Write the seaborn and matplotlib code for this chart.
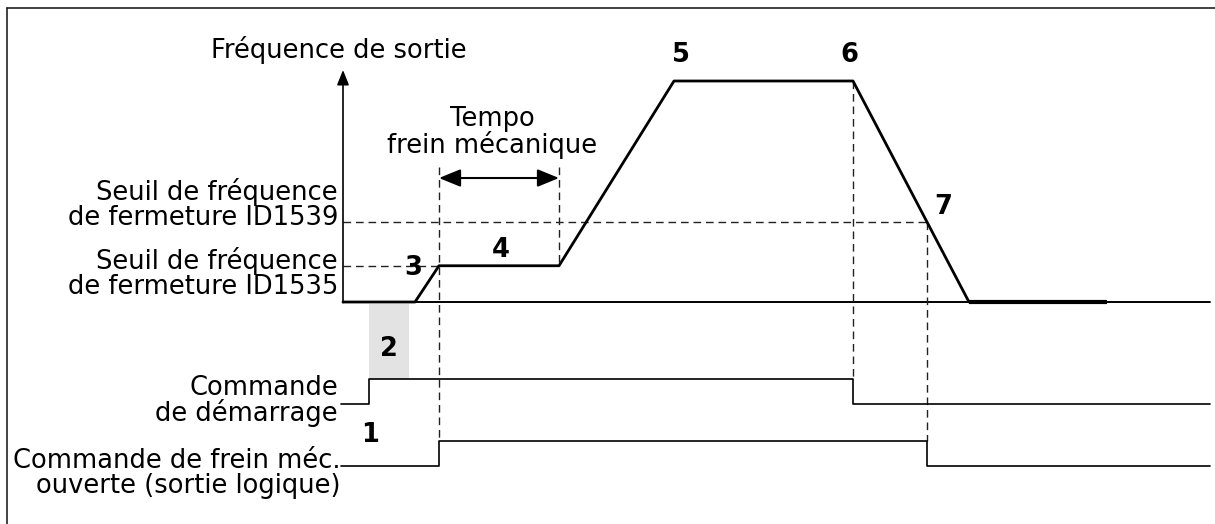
import numpy as np
import pandas as pd
import matplotlib
matplotlib.use("Agg")
import matplotlib.pyplot as plt
import seaborn as sns

# time axis (arbitrary units, 0 = frequency axis), frequency in % of max
freq_t = [0, 72, 96, 216, 331, 510, 626]
freq_f = [0, 0, 16.4, 16.4, 100, 100, 0]
tail_t = [626, 764]
t_end = 867

id1535 = 16.4
id1539 = 36.0

start_t = [-2, 26, 510, t_end]
start_s = [0, 1, 0, 0]
brake_t = [-2, 96, 584, t_end]
brake_s = [0, 1, 0, 0]

# signal rows (low, high) drawn in the same frame as the frequency
start_row = (-46.2, -34.8)
brake_row = (-74.2, -62.9)

sns.set_theme(style="white")
plt.rcParams['font.family'] = ['DejaVu Sans']
plt.rcParams['text.color'] = 'black'

fig = plt.figure(figsize=(12.15, 5.24), dpi=100)
ax = fig.add_axes([0, 0, 1, 1])
ax.set_xlim(-343, 872)
ax.set_ylim(-100.45, 136.65)
ax.axis('off')

fs = 18.5
dash = dict(color='#222222', lw=1.0, dashes=(5.5, 3.5))

# frame (top and left only)
ax.plot([-336, 872], [133, 133], color='#222222', lw=1.2)
ax.plot([-336, -336], [133, -100.45], color='#222222', lw=1.2)

# baseline and frequency axis
ax.plot([0, t_end], [0, 0], color='black', lw=1.4)
ax.annotate('', xy=(0, 105), xytext=(0, -0.3),
            arrowprops=dict(arrowstyle='-|>,head_width=0.3,head_length=0.75',
                            color='black', lw=1.2, shrinkA=0, shrinkB=0))

# start delay box
ax.fill_between([26, 66], -0.8, start_row[1], color='#e3e3e3', lw=0)

# threshold / time markers
ax.plot([0, 96], [id1535, id1535], **dash)
ax.plot([0, 584], [id1539, id1539], **dash)
ax.plot([96, 96], [61.1, brake_row[1]], **dash)
ax.plot([216, 216], [61.1, id1535], **dash)
ax.plot([510, 510], [100, start_row[1]], **dash)
ax.plot([584, 584], [id1539, brake_row[1]], **dash)

# frequency curve
df = pd.DataFrame({'t': freq_t, 'f': freq_f})
sns.lineplot(data=df, x='t', y='f', ax=ax, color='black', lw=2.0,
             estimator=None, sort=False)
ax.plot(tail_t, [0, 0], color='black', lw=3.0, solid_capstyle='butt')

# logic signals
for tt, ss, (lo, hi) in [(start_t, start_s, start_row), (brake_t, brake_s, brake_row)]:
    sig = pd.DataFrame({'t': tt, 'y': [lo + s * (hi - lo) for s in ss]})
    sns.lineplot(data=sig, x='t', y='y', ax=ax, color='black', lw=1.2,
                 drawstyle='steps-post', estimator=None, sort=False)

# brake timer arrow
ax.annotate('', xy=(216, 56.1), xytext=(96, 56.1),
            arrowprops=dict(arrowstyle='<|-|>,head_width=0.45,head_length=1.1',
                            color='black', lw=1.5, shrinkA=0, shrinkB=0))

# texts
ax.text(-4, 114, 'Fréquence de sortie', ha='center', va='center', fontsize=fs)
ax.text(149, 76.5, 'Tempo\nfrein mécanique', ha='center', va='center',
        fontsize=fs, linespacing=0.95)
ax.text(-5, 43.9, 'Seuil de fréquence\nde fermeture ID1539', ha='right', va='center',
        fontsize=fs, linespacing=0.95)
ax.text(-5, 13.1, 'Seuil de fréquence\nde fermeture ID1535', ha='right', va='center',
        fontsize=fs, linespacing=0.95)
ax.text(-5, -44.8, 'Commande\nde démarrage', ha='right', va='center',
        fontsize=fs, linespacing=0.95)
ax.text(-2, -77.8, 'Commande de frein méc.\nouverte (sortie logique)', ha='right',
        va='center', fontsize=fs, linespacing=0.95)

numbers = ['1', '2', '3', '4', '5', '6', '7']
num_t = [27, 46, 70, 158, 338, 506, 600]
num_f = [-60.2, -21.3, 15.4, 23.5, 111.8, 111.8, 43]
for n, x, y in zip(numbers, num_t, num_f):
    ax.text(x, y, n, ha='center', va='center', fontsize=fs, fontweight='bold')

fig.savefig('out.png', dpi=100)
